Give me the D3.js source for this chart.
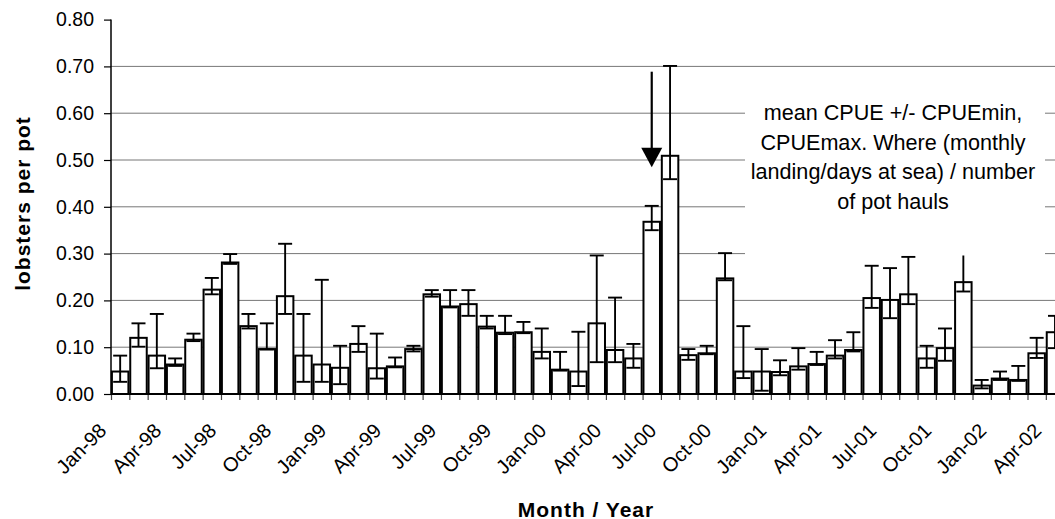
<!DOCTYPE html>
<html>
<head>
<meta charset="utf-8">
<script src="https://cdn.jsdelivr.net/npm/d3@7/dist/d3.min.js"></script>
<style>
  html, body { margin: 0; padding: 0; background: #fff; }
  svg { display: block; font-family: "Liberation Sans", Arial, Helvetica, sans-serif; }
</style>
</head>
<body>
<svg id="chart" width="1055" height="519"></svg>
<script>
// Monthly categories, Jan 1998 – Apr 2002
const categories = [
  "Jan-98","Feb-98","Mar-98","Apr-98","May-98","Jun-98","Jul-98","Aug-98","Sep-98","Oct-98","Nov-98","Dec-98",
  "Jan-99","Feb-99","Mar-99","Apr-99","May-99","Jun-99","Jul-99","Aug-99","Sep-99","Oct-99","Nov-99","Dec-99",
  "Jan-00","Feb-00","Mar-00","Apr-00","May-00","Jun-00","Jul-00","Aug-00","Sep-00","Oct-00","Nov-00","Dec-00",
  "Jan-01","Feb-01","Mar-01","Apr-01","May-01","Jun-01","Jul-01","Aug-01","Sep-01","Oct-01","Nov-01","Dec-01",
  "Jan-02","Feb-02","Mar-02","Apr-02"
];

// Mean CPUE (lobsters per pot)
const meanCPUE = [
  0.048,0.120,0.082,0.063,0.116,0.223,0.281,0.145,0.096,0.209,0.082,0.063,
  0.056,0.107,0.055,0.059,0.096,0.213,0.187,0.192,0.144,0.131,0.132,0.090,
  0.052,0.048,0.151,0.094,0.076,0.368,0.509,0.083,0.087,0.247,0.048,0.048,
  0.047,0.059,0.064,0.082,0.094,0.205,0.201,0.213,0.076,0.098,0.239,0.018,
  0.033,0.030,0.087,0.132
];

// Lower bound (CPUEmin)
const minCPUE = [
  0.026,0.101,0.055,0.060,0.113,0.213,0.278,0.140,0.095,0.171,0.026,0.026,
  0.021,0.090,0.033,0.057,0.091,0.208,0.185,0.167,0.140,0.128,0.130,0.076,
  0.050,0.017,0.068,0.068,0.056,0.350,0.459,0.073,0.085,0.243,0.034,0.007,
  0.040,0.052,0.062,0.076,0.091,0.184,0.162,0.192,0.056,0.071,0.219,0.012,
  0.030,0.028,0.077,0.098
];

// Upper bound (CPUEmax)
const maxCPUE = [
  0.082,0.151,0.171,0.076,0.129,0.248,0.299,0.171,0.151,0.321,0.171,0.244,
  0.103,0.145,0.129,0.078,0.103,0.222,0.222,0.222,0.167,0.167,0.154,0.140,
  0.090,0.133,0.296,0.206,0.107,0.402,0.701,0.096,0.103,0.301,0.145,0.096,
  0.072,0.098,0.090,0.115,0.132,0.274,0.269,0.293,0.103,0.140,0.300,0.030,
  0.048,0.060,0.120,0.167
];

// Category axis labels (every third month)
const tickLabels = ["Jan-98","Apr-98","Jul-98","Oct-98","Jan-99","Apr-99","Jul-99","Oct-99",
  "Jan-00","Apr-00","Jul-00","Oct-00","Jan-01","Apr-01","Jul-01","Oct-01","Jan-02","Apr-02"];

const yTicks = [0, 0.1, 0.2, 0.3, 0.4, 0.5, 0.6, 0.7, 0.8];
const gridValues = [0.1, 0.2, 0.3, 0.4, 0.5, 0.6, 0.7];

const annotationLines = [
  "mean CPUE +/- CPUEmin,",
  "CPUEmax. Where (monthly",
  "landing/days at sea) / number",
  "of pot hauls"
];

const data = categories.map((c, i) => ({ cat: c, mean: meanCPUE[i], lo: minCPUE[i], hi: maxCPUE[i] }));

const svg = d3.select("#chart");
const plotLeft = 111, plotTop = 19.6, plotBottom = 394, step = 18.33;
const plotRight = plotLeft + categories.length * step;

const x = d3.scaleBand().domain(categories).range([plotLeft, plotRight]).paddingInner(0.1).paddingOuter(0.05);
const xEdge = d3.scaleLinear().domain([0, categories.length]).range([plotLeft, plotRight]);
const y = d3.scaleLinear().domain([0, 0.8]).range([plotBottom, plotTop]);

svg.append("rect").attr("width", 1055).attr("height", 519).attr("fill", "#fff");

// horizontal gridlines
svg.append("g").selectAll("line").data(gridValues).join("line")
  .attr("x1", plotLeft).attr("x2", plotRight)
  .attr("y1", d => y(d)).attr("y2", d => y(d))
  .attr("stroke", "#777").attr("stroke-width", 1);

// bars
svg.append("g").selectAll("rect").data(data).join("rect")
  .attr("x", d => x(d.cat))
  .attr("width", x.bandwidth())
  .attr("y", d => y(d.mean))
  .attr("height", d => y(0) - y(d.mean))
  .attr("fill", "#fff").attr("stroke", "#000").attr("stroke-width", 2);

// error bars (min to max)
const capHalf = 7;
const cx = d => x(d.cat) + x.bandwidth() / 2;
const eb = svg.append("g").attr("stroke", "#000").attr("stroke-width", 1.9);
eb.selectAll("line.v").data(data).join("line").attr("class", "v")
  .attr("x1", cx).attr("x2", cx)
  .attr("y1", d => y(d.lo)).attr("y2", d => y(d.hi));
eb.selectAll("line.hi").data(data).join("line").attr("class", "hi")
  .attr("x1", d => cx(d) - capHalf).attr("x2", d => cx(d) + capHalf)
  .attr("y1", d => y(d.hi)).attr("y2", d => y(d.hi));
eb.selectAll("line.lo").data(data).join("line").attr("class", "lo")
  .attr("x1", d => cx(d) - capHalf).attr("x2", d => cx(d) + capHalf)
  .attr("y1", d => y(d.lo)).attr("y2", d => y(d.lo));

// x axis ticks at category boundaries
const xAxisG = svg.append("g").attr("transform", `translate(0,${plotBottom})`)
  .call(d3.axisBottom(xEdge).tickValues(d3.range(0, categories.length + 1)).tickSize(6).tickFormat(""));
xAxisG.select(".domain").remove();
xAxisG.selectAll(".tick line").attr("stroke", "#444").attr("stroke-width", 1.2);
svg.append("line").attr("x1", plotLeft).attr("x2", plotRight).attr("y1", plotBottom).attr("y2", plotBottom)
  .attr("stroke", "#000").attr("stroke-width", 2);

// x tick labels, rotated
svg.append("g").selectAll("text").data(tickLabels).join("text")
  .attr("transform", d => `translate(${x(d) + x.bandwidth() / 2 - 12.5},${432}) rotate(-45)`)
  .attr("text-anchor", "end")
  .attr("font-size", 20)
  .attr("fill", "#000")
  .text(d => d);

// y axis
const yAxisG = svg.append("g").attr("transform", `translate(${plotLeft},0)`)
  .call(d3.axisLeft(y).tickValues(yTicks).tickFormat(d3.format(".2f")).tickSize(7).tickPadding(10));
yAxisG.select(".domain").attr("stroke", "#000").attr("stroke-width", 1.5).attr("d", `M0,${plotTop}V${plotBottom}`);
yAxisG.selectAll(".tick line").attr("stroke", "#000").attr("stroke-width", 1.2);
yAxisG.selectAll(".tick text").attr("font-size", 19.5).attr("fill", "#000")
  .attr("font-family", "'Liberation Sans', Arial, sans-serif");

// axis titles
svg.append("text")
  .attr("transform", "translate(22.5,203.5) rotate(-90)")
  .attr("text-anchor", "middle").attr("dominant-baseline", "central")
  .attr("font-size", 21).attr("font-weight", "bold").attr("letter-spacing", 1)
  .text("lobsters per pot");
svg.append("text")
  .attr("x", 586).attr("y", 516.5)
  .attr("text-anchor", "middle")
  .attr("font-size", 21).attr("font-weight", "bold").attr("letter-spacing", 1)
  .text("Month / Year");

// annotation text box
svg.append("rect").attr("x", 745).attr("y", 70).attr("width", 300).attr("height", 185.5).attr("fill", "#fff");
svg.append("g").selectAll("text").data(annotationLines).join("text")
  .attr("x", 893).attr("y", (d, i) => 120 + i * 29.6)
  .attr("text-anchor", "middle").attr("font-size", 21.6).attr("fill", "#000")
  .text(d => d);

// arrow pointing at Jun-00
const arrowX = x("Jun-00") + x.bandwidth() / 2;
svg.append("line").attr("x1", arrowX).attr("x2", arrowX).attr("y1", 71.7).attr("y2", 150)
  .attr("stroke", "#000").attr("stroke-width", 2.2);
svg.append("path")
  .attr("d", `M${arrowX - 10.5},147.7L${arrowX + 10.5},147.7L${arrowX},167.3Z`)
  .attr("fill", "#000");
</script>
</body>
</html>
